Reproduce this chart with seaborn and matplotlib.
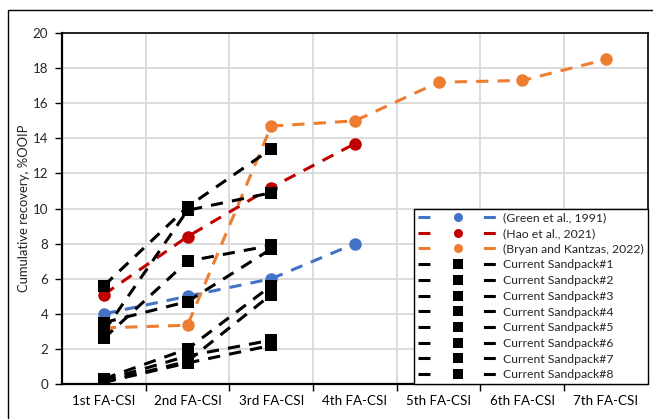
import matplotlib
matplotlib.use("Agg")
import matplotlib.pyplot as plt
from matplotlib.lines import Line2D
from matplotlib.patches import Rectangle
from matplotlib.ticker import MultipleLocator, FixedLocator
import numpy as np
import pandas as pd
import seaborn as sns

# Injection stages
stages = ["1st FA-CSI", "2nd FA-CSI", "3rd FA-CSI", "4th FA-CSI",
          "5th FA-CSI", "6th FA-CSI", "7th FA-CSI"]

# Cumulative recovery (%OOIP) per stage
green_1991 = [4.0, 5.0, 6.0, 8.0]
hao_2021 = [5.1, 8.4, 11.2, 13.7]
bryan_2022 = [3.2, 3.35, 14.7, 15.0, 17.2, 17.3, 18.5]

sandpack1 = [5.6, 10.1, 13.4]
sandpack2 = [3.0, 9.9, 10.9]
sandpack3 = [2.6, 7.0, 7.9]
sandpack4 = [3.5, 4.7, 7.7]
sandpack5 = [0.3, 2.0, 5.6]
sandpack6 = [0.1, 1.3, 5.1]
sandpack7 = [0.2, 1.6, 2.5]
sandpack8 = [0.1, 1.2, 2.2]

series_names = ["(Green et al., 1991)", "(Hao et al., 2021)", "(Bryan and Kantzas, 2022)"] + \
    [f"Current Sandpack#{i}" for i in range(1, 9)]
series_values = [green_1991, hao_2021, bryan_2022,
                 sandpack1, sandpack2, sandpack3, sandpack4,
                 sandpack5, sandpack6, sandpack7, sandpack8]
series_colors = ["#4472C4", "#C00000", "#ED7D31"] + ["#000000"] * 8
series_markers = ["o", "o", "o"] + ["s"] * 8

rows = []
for name, vals in zip(series_names, series_values):
    for i, v in enumerate(vals):
        rows.append({"series": name, "pos": i, "value": v})
df = pd.DataFrame(rows)

sns.set_theme(style="white")
plt.rcParams["font.family"] = ["Lato", "DejaVu Sans"]

fig = plt.figure(figsize=(6.53, 4.19), dpi=100)
ax = fig.add_axes([0.095, 0.0835, 0.897, 0.8375])

lw = 2.2
sns.lineplot(
    data=df, x="pos", y="value", hue="series", style="series",
    hue_order=series_names, style_order=series_names,
    palette=dict(zip(series_names, series_colors)),
    markers=dict(zip(series_names, series_markers)),
    dashes={n: (4, 3) for n in series_names},
    linewidth=lw, markersize=9, markeredgewidth=0,
    sort=False, legend=False, ax=ax,
)

ax.set_xlim(-0.5, 6.5)
ax.set_ylim(0, 20)
ax.yaxis.set_major_locator(MultipleLocator(2))
ax.set_xticks(range(len(stages)))
ax.set_xticklabels(stages)
ax.xaxis.set_minor_locator(FixedLocator(np.arange(0.5, 6.5, 1.0)))

ax.grid(False)
ax.grid(axis="y", which="major", color="#d9d9d9", linewidth=1.3)
ax.grid(axis="x", which="minor", color="#d9d9d9", linewidth=1.3)
ax.set_axisbelow(True)

ax.tick_params(axis="x", which="major", length=0, pad=8, labelsize=9.6, colors="black")
ax.tick_params(axis="x", which="minor", length=5, width=1, direction="out", color="black", bottom=True)
ax.tick_params(axis="y", which="major", length=5, width=1, direction="out", color="black",
               labelsize=9.6, pad=5, left=True)
for s in ax.spines.values():
    s.set_visible(True)
    s.set_color("black")
    s.set_linewidth(1.2)
ax.spines["left"].set_linewidth(1.6)
ax.spines["bottom"].set_linewidth(1.6)

ax.set_xlabel("")
ax.set_ylabel("Cumulative recovery, %OOIP", fontsize=9.4, color="#222222", labelpad=2)

handles = [
    Line2D([], [], color=c, marker=m, markersize=6.5, markeredgewidth=0,
           linewidth=lw, linestyle=(0, (3.9, 17.5)))
    for c, m in zip(series_colors, series_markers)
]
leg = ax.legend(handles, series_names, loc="lower right", bbox_to_anchor=(1.0, 0.0),
                borderaxespad=0.0, fontsize=8.8, handlelength=6.6, handletextpad=0.4,
                labelspacing=0.385, borderpad=0.3, fancybox=False, framealpha=1,
                edgecolor="black", numpoints=1)
leg.get_frame().set_linewidth(1.0)

fig.patches.append(Rectangle((8 / 653, -0.1), 1.2, 1.1 - 10 / 419, transform=fig.transFigure,
                             fill=False, edgecolor="black", linewidth=1.0, clip_on=False))

fig.savefig("out.png", dpi=100)
